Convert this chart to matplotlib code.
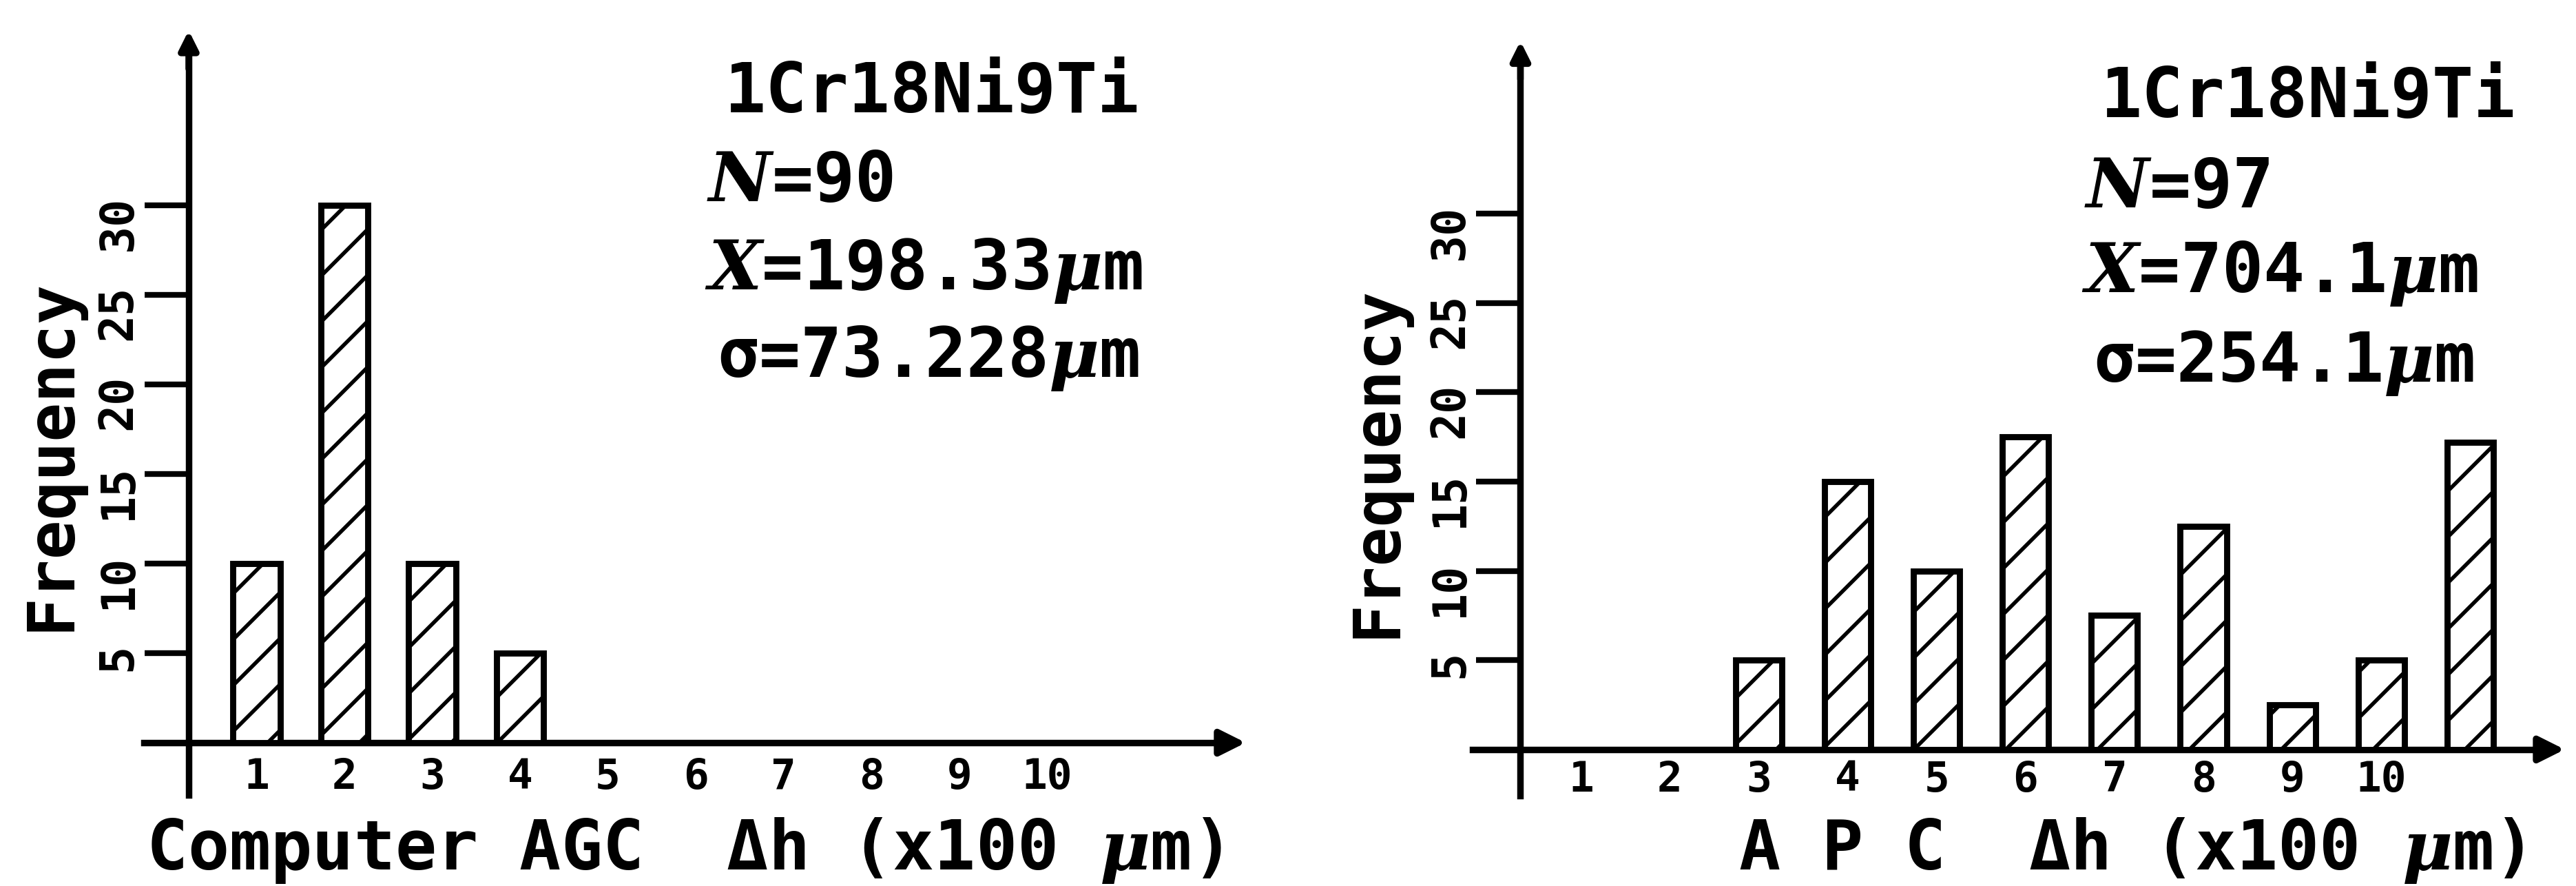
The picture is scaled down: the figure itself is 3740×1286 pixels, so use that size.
import matplotlib
matplotlib.use('Agg')
import matplotlib.pyplot as plt
from matplotlib.transforms import ScaledTranslation

plt.rcParams['font.family'] = ['DejaVu Sans Mono', 'DejaVu Sans']
plt.rcParams['font.weight'] = 'bold'
plt.rcParams['mathtext.fontset'] = 'dejavuserif'
plt.rcParams['hatch.linewidth'] = 1.0
plt.rcParams['hatch.color'] = 'black'

W, H = 3740, 1286
DPI = 400  # high dpi so the '//' hatch comes out as wide as in the scan

# data
agc_bins = [1, 2, 3, 4]
agc_freq = [10, 30, 10, 5]
apc_bins = [3, 4, 5, 6, 7, 8, 9, 10, 11]
apc_freq = [5, 15, 10, 17.5, 7.5, 12.5, 2.5, 5, 17.2]

xtick_pos = [1, 2, 3, 4, 5, 6, 7, 8, 9, 10]
xtick_labels = ['1', '2', '3', '4', '5', '6', '7', '8', '9', '10']
ytick_vals = [5, 10, 15, 20, 25, 30]

agc_stats = ['1Cr18Ni9Ti', '$N$=90', '$X$=198.33$\\mu$m', 'σ=73.228$\\mu$m']
apc_stats = ['1Cr18Ni9Ti', '$N$=97', '$X$=704.1$\\mu$m', 'σ=254.1$\\mu$m']
agc_xlabel = 'Computer AGC  Δh (x100 $\\mu$m)'
apc_xlabel = 'A P C  Δh (x100 $\\mu$m)'

fig = plt.figure(figsize=(W / DPI, H / DPI), dpi=DPI)


def px_box(x0, x1, y0, y1):
    # pixel box (top-left origin) -> figure fraction box
    return [x0 / W, 1 - y1 / H, (x1 - x0) / W, (y1 - y0) / H]


def panel(box, xlim, ylim, yaxis_x, xspan, yspan, bins, freq, width, xpad):
    ax = fig.add_axes(box)
    ax.set_facecolor('none')
    ax.bar(bins, freq, width=width, facecolor='white', edgecolor='black',
           hatch='//', linewidth=1.6, zorder=3)
    ax.set_xlim(*xlim)
    ax.set_ylim(*ylim)
    ax.spines['top'].set_visible(False)
    ax.spines['right'].set_visible(False)
    ax.spines['left'].set_position(('data', yaxis_x))
    ax.spines['left'].set_bounds(yspan[0], yspan[1] - 1.5)
    ax.spines['bottom'].set_position(('data', 0))
    ax.spines['bottom'].set_bounds(xspan[0], xspan[1] - 0.3)
    for s in ['left', 'bottom']:
        ax.spines[s].set_linewidth(1.7)
    # arrow heads
    ax.annotate('', xy=(xspan[1], 0), xytext=(xspan[1] - 0.45, 0),
                arrowprops=dict(arrowstyle='-|>', color='black', lw=1.7,
                                mutation_scale=14), annotation_clip=False)
    ax.annotate('', xy=(yaxis_x, yspan[1]), xytext=(yaxis_x, yspan[1] - 3),
                arrowprops=dict(arrowstyle='-|>', color='black', lw=1.7,
                                mutation_scale=10), annotation_clip=False)
    ax.set_xticks(xtick_pos)
    ax.set_xticklabels(xtick_labels)
    ax.set_yticks(ytick_vals)
    ax.set_yticklabels([str(v) for v in ytick_vals])
    ax.tick_params(axis='x', length=0, pad=xpad, labelsize=11)
    ax.tick_params(axis='y', direction='out', length=11.5, width=1.5,
                   labelrotation=90, pad=1, labelsize=12)
    # printed labels sit a little below their ticks
    shift = ScaledTranslation(0, -12 / DPI, fig.dpi_scale_trans)
    for lab in ax.get_yticklabels():
        lab.set_transform(lab.get_transform() + shift)
    return ax


panel(px_box(200, 1830, 20, 1170), (-0.353, 12.43), (-3.54, 40.7), 0.227,
      (-0.28, 12.35), (-2.92, 40.2), agc_bins, agc_freq, 0.54, 3.8)
panel(px_box(2130, 3740, 20, 1170), (-0.28, 12.19), (-3.17, 41.2), 0.32,
      (-0.22, 12.15), (-2.6, 40.1), apc_bins, apc_freq, 0.52, 2.7)

# statistics blocks (left x, baseline y in pixels)
for stats, xs, ys in [(agc_stats, [1052, 1026, 1023, 1041], [163, 292, 420, 547]),
                      (apc_stats, [3050, 3026, 3022, 3039], [170, 301, 424, 554])]:
    for s, x, y in zip(stats, xs, ys):
        fig.text(x / W, 1 - y / H, s, fontsize=18, fontweight='bold',
                 ha='left', va='baseline')

fig.text(212 / W, 1 - 1262 / H, agc_xlabel, fontsize=18, fontweight='bold',
         ha='left', va='baseline')
fig.text(2524 / W, 1 - 1262 / H, apc_xlabel, fontsize=18, fontweight='bold',
         ha='left', va='baseline')

fig.text(75 / W, 1 - 660 / H, 'Frequency', rotation=90, fontsize=17,
         fontweight='bold', ha='center', va='center')
fig.text(2000 / W, 1 - 670 / H, 'Frequency', rotation=90, fontsize=17,
         fontweight='bold', ha='center', va='center')

fig.savefig('out.png', dpi=DPI, facecolor='white')
